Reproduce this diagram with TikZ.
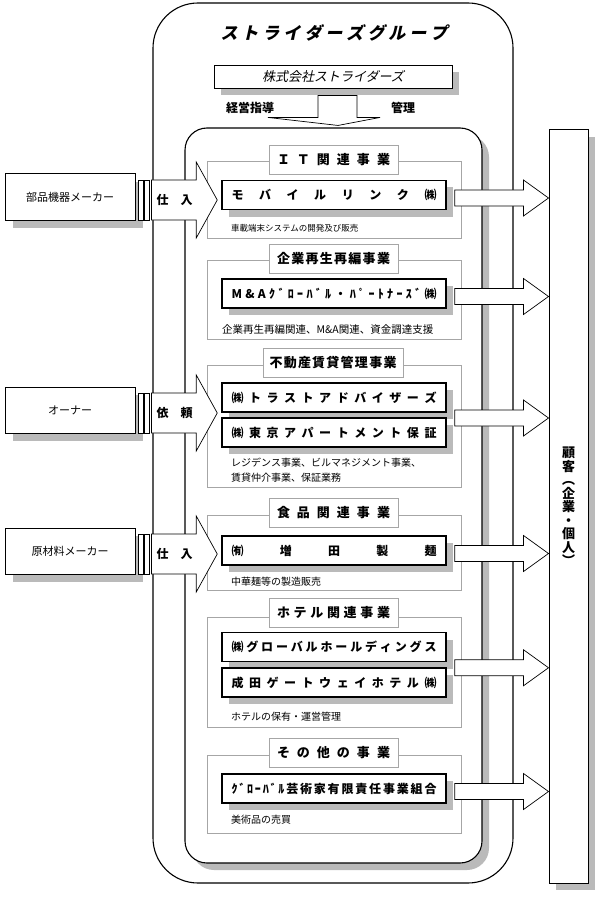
\documentclass[tikz,border=0pt]{standalone}
\usepackage{fontspec}
\setmainfont{Noto Sans CJK JP}
\newfontfamily\slantjp[FakeSlant=0.22]{Noto Sans CJK JP}
\usetikzlibrary{calc, shadows}

\newcommand\spreadbox[2]{\makebox[#1][s]{\spreadloop#2\relax\unskip}}
\def\spreadloop#1{\ifx#1\relax\else#1\hfill\expandafter\spreadloop\fi}

\begin{document}
\begin{tikzpicture}[
		x=1pt, y=-1pt,
		boxshadow/.style={drop shadow={shadow xshift=7pt, shadow yshift=-7pt, fill=black!27, opacity=1}},
		firm/.style={draw, line width=1.5pt, fill=white, minimum width=224, minimum height=29,
			inner sep=0, font=\bfseries\fontsize{12}{12}\selectfont, boxshadow},
		segframe/.style={draw=black!35, line width=0.6pt},
		segtitle/.style={draw=black!35, line width=0.6pt, fill=white, minimum width=129,
			minimum height=29, inner sep=0, font=\bfseries\fontsize{13}{13}\selectfont},
		desc/.style={anchor=west, inner sep=0, align=left, font=\fontsize{10}{15}\selectfont},
		supplier/.style={draw, line width=1pt, fill=white, minimum width=130, minimum height=46,
			font=\fontsize{11}{11}\selectfont,
			drop shadow={shadow xshift=8pt, shadow yshift=-8pt, fill=black!27, opacity=1}},
		flowtag/.style={inner sep=0, font=\bfseries\fontsize{12}{12}\selectfont},
		blockline/.style={draw, line width=0.7pt, fill=white}
	]
	\useasboundingbox (0,0) rectangle (602,904);

	\node[draw, line width=1.1pt, fill=white, rounded corners=45, minimum width=360,
		minimum height=880, inner sep=0] (groupframe) at (333,443) {};
	\node[font=\slantjp\bfseries\fontsize{17}{17}\selectfont] (grouptitle) at (334,33)
		{\spreadbox{227pt}{ストライダーズグループ}};

	\node[draw, line width=1.1pt, fill=white, rounded corners=22, minimum width=297,
		minimum height=735, inner sep=0, boxshadow] (core) at (333.5,495.5) {};

	\node[draw, line width=0.9pt, fill=white, minimum width=238, minimum height=23,
		font=\slantjp\fontsize{13}{13}\selectfont, boxshadow] (strider) at (333,76.5) {株式会社ストライダーズ};
	\draw[blockline] let \p1=(strider.south), \p2=(core.north) in
		(\x1-15pt,\y1-7pt) -- (\x1+24pt,\y1-7pt) -- (\x1+24pt,\y2+10pt) -- (\x1+47pt,\y2+10pt)
		-- (\x1+5pt,\y2+2pt) -- (\x1-65pt,\y2+10pt) -- (\x1-15pt,\y2+10pt) -- cycle;
	\node[flowtag] (guide) at (250,108) {経営指導};
	\node[flowtag] (manage) at (403,108) {管理};

	\draw[segframe] (207,161) rectangle (461,238);
	\node[segtitle] (itttl) at (333.5,160) {\spreadbox{113pt}{ＩＴ関連事業}};
	\node[firm] (mobile) at (334,195) {\spreadbox{205pt}{モバイルリンク㈱}};
	\node[desc, font=\fontsize{8.5}{10}\selectfont] (itdesc) at (231,228) {車載端末システムの開発及び販売};

	\draw[segframe] (207,260) rectangle (461,339);
	\node[segtitle] (rettl) at (333.5,259) {\spreadbox{113pt}{企業再生再編事業}};
	\node[firm] (mag) at (334,293.5) {\spreadbox{205pt}{M\&Aｸﾞﾛｰﾊﾞﾙ・ﾊﾟｰﾄﾅｰｽﾞ㈱}};
	\node[desc, font=\fontsize{10.5}{12}\selectfont] (redesc) at (222,330) {企業再生再編関連、M\&A関連、資金調達支援};

	\draw[segframe] (207,365) rectangle (461,487);
	\node[segtitle, minimum width=140] (esttl) at (333,363) {\spreadbox{127pt}{不動産賃貸管理事業}};
	\node[firm] (trust) at (334,397.5) {\spreadbox{205pt}{㈱トラストアドバイザーズ}};
	\node[firm] (tokyo) at (334,432.5) {\spreadbox{205pt}{㈱東京アパートメント保証}};
	\node[desc] (esdesc) at (231,470.5) {レジデンス事業、ビルマネジメント事業、\\賃貸仲介事業、保証業務};

	\draw[segframe] (207,515) rectangle (461,590);
	\node[segtitle] (fdttl) at (333.5,513) {\spreadbox{113pt}{食品関連事業}};
	\node[firm] (masuda) at (334,550.5) {\spreadbox{205pt}{㈲増田製麺}};
	\node[desc] (fddesc) at (231,582) {中華麺等の製造販売};

	\draw[segframe] (207,617) rectangle (461,727);
	\node[segtitle] (htttl) at (333.5,613) {\spreadbox{113pt}{ホテル関連事業}};
	\node[firm] (globalhd) at (334,647) {\spreadbox{205pt}{㈱グローバルホールディングス}};
	\node[firm] (narita) at (334,682.5) {\spreadbox{205pt}{成田ゲートウェイホテル㈱}};
	\node[desc] (htdesc) at (231,717) {ホテルの保有・運営管理};

	\draw[segframe] (207,755) rectangle (461,833);
	\node[segtitle] (otttl) at (333.5,752.5) {\spreadbox{113pt}{その他の事業}};
	\node[firm] (artist) at (334,788.5) {\spreadbox{205pt}{ｸﾞﾛｰﾊﾞﾙ芸術家有限責任事業組合}};
	\node[desc] (otdesc) at (231,820) {美術品の売買};

	\node[draw, line width=1pt, fill=white, minimum width=39, minimum height=753, inner sep=0,
		align=center, font=\bfseries\fontsize{13}{13.5}\selectfont, boxshadow] (customer) at (568.5,506.5)
		{顧\\客\\︵\\企\\業\\・\\個\\人\\︶};

	\coordinate (out1) at ($(mobile.east)+(8,3)$);
	\coordinate (out2) at ($(mag.east)+(8,3)$);
	\coordinate (out3) at ($(trust.east)!0.5!(tokyo.east)+(8,3)$);
	\coordinate (out4) at ($(masuda.east)+(8,3)$);
	\coordinate (out5) at ($(globalhd.east)!0.5!(narita.east)+(8,3)$);
	\coordinate (out6) at ($(artist.east)+(8,3)$);
	\foreach \o in {out1,out2,out3,out4,out5,out6}
		\draw[blockline] let \p1=(\o), \p2=(customer.west) in
			(\x1,\y1+8pt) -- (\x2-25pt,\y1+8pt) -- (\x2-25pt,\y1+18pt) -- (\x2,\y1)
			-- (\x2-25pt,\y1-18pt) -- (\x2-25pt,\y1-8pt) -- (\x1,\y1-8pt) -- cycle;

	\node[supplier] (parts) at (70,197) {部品機器メーカー};
	\node[supplier] (owner) at (70,410) {オーナー};
	\node[supplier] (rawmat) at (70,551) {原材料メーカー};

	\foreach \s/\t/\w/\n in {parts/mobile/仕　入/buyparts, owner/trust/依　頼/askowner, rawmat/masuda/仕　入/buyraw}{
		\draw[blockline] let \p1=(\s.east), \p2=(\t.west) in
			(\x1+16pt,\y1+17pt) -- (\x2-25pt,\y1+17pt) -- (\x2-25pt,\y1+35pt) -- (\x2-4pt,\y1-3pt)
			-- (\x2-25pt,\y1-41pt) -- (\x2-25pt,\y1-23pt) -- (\x1+16pt,\y1-23pt) -- cycle;
		\draw[blockline] let \p1=(\s.east) in (\x1+3pt,\y1+17pt) rectangle (\x1+8pt,\y1-23pt);
		\draw[blockline] let \p1=(\s.east) in (\x1+9pt,\y1+17pt) rectangle (\x1+14pt,\y1-23pt);
		\node[flowtag] (\n) at ($(\s.east)+(39,3)$) {\w};
	}
\end{tikzpicture}
\end{document}
